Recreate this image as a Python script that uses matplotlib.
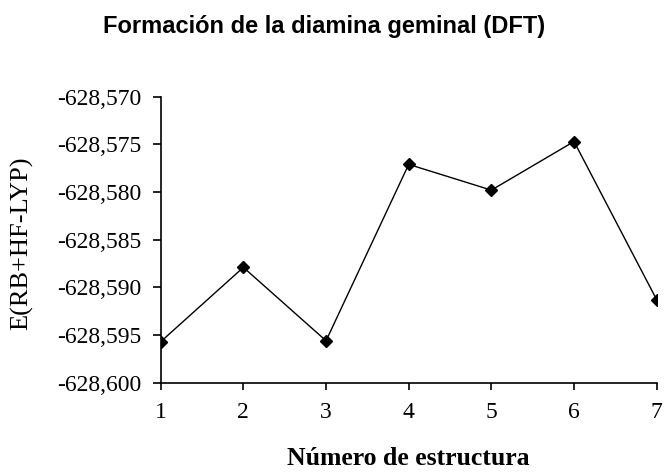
import matplotlib
matplotlib.use("Agg")
import matplotlib.pyplot as plt
from matplotlib.ticker import FuncFormatter

estructura = [1, 2, 3, 4, 5, 6, 7]
energia = [-628.5957, -628.5879, -628.5956, -628.5771, -628.5798, -628.5747, -628.5913]
y_ticks = [-628.600, -628.595, -628.590, -628.585, -628.580, -628.575, -628.570]

fig = plt.figure(figsize=(6.71, 4.75), dpi=100)
ax = fig.add_axes([0.2395, 0.1943, 0.7392, 0.6021])

ax.plot(estructura, energia, color="black", linewidth=1.0,
        marker="D", markersize=6.5, markerfacecolor="black")

ax.set_xlim(1, 7)
ax.set_ylim(-628.600, -628.570)
ax.set_xticks(estructura)
ax.set_yticks(y_ticks)
ax.yaxis.set_major_formatter(FuncFormatter(lambda v, p: f"{v:.3f}".replace(".", ",")))

for s in ["top", "right"]:
    ax.spines[s].set_visible(False)
for s in ["left", "bottom"]:
    ax.spines[s].set_linewidth(1.2)

ax.tick_params(axis="y", direction="out", length=6, width=1.2, pad=8)
ax.tick_params(axis="x", direction="out", length=5, width=1.2, pad=9)
for lbl in ax.get_xticklabels() + ax.get_yticklabels():
    lbl.set_fontfamily("Liberation Serif")
    lbl.set_fontsize(17)

ax.set_xlabel("Número de estructura", fontfamily="Liberation Serif",
              fontweight="bold", fontsize=18.5, va="top")
ax.xaxis.set_label_coords(0.5, -0.225)
fig.text(0.033, 0.488, "E(RB+HF-LYP)", rotation=90, va="center", ha="center",
         fontfamily="Liberation Serif", fontsize=19)
fig.text(0.483, 0.945, "Formación de la diamina geminal (DFT)", ha="center", va="center",
         fontfamily="Liberation Sans", fontweight="bold", fontsize=17)

fig.savefig("out.png", dpi=100)
